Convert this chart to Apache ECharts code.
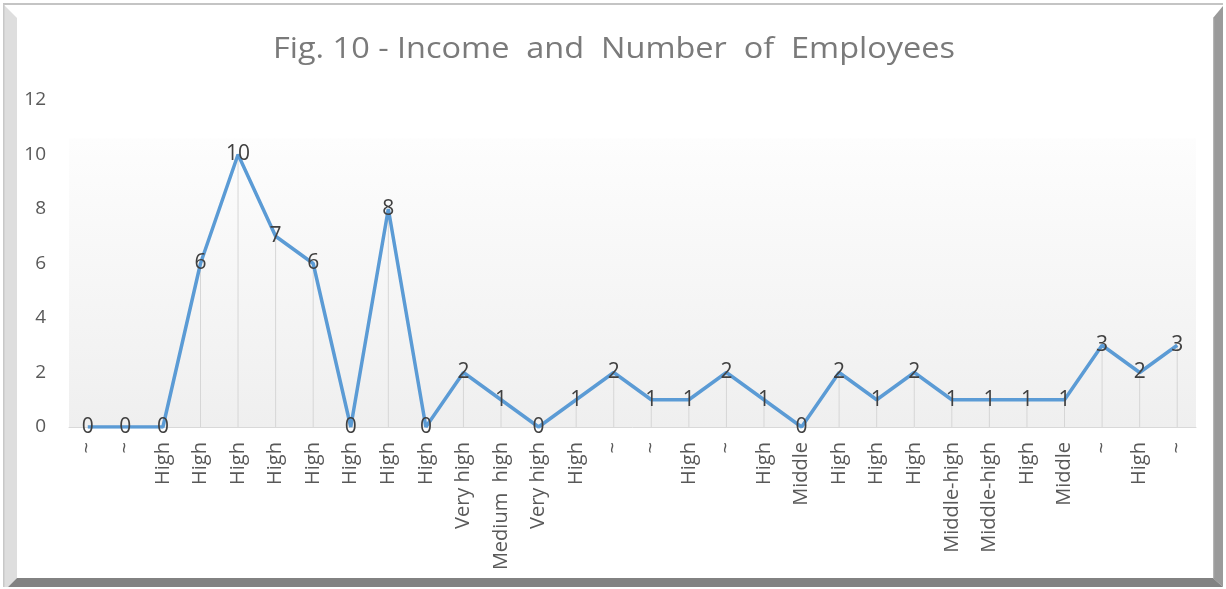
<!DOCTYPE html>
<html>
<head>
<meta charset="utf-8">
<style>
  html, body { margin: 0; padding: 0; background: #ffffff; }
  #chart { width: 1226px; height: 589px; }
</style>
<script src="https://cdn.jsdelivr.net/npm/echarts@6/dist/echarts.min.js"></script>
</head>
<body>
<div id="chart"></div>
<script>
// Income level of each firm and its number of employees
const incomeLevels = [
  '~', '~', 'High', 'High', 'High', 'High', 'High', 'High', 'High', 'High',
  'Very high', 'Medium  high', 'Very high', 'High', '~', '~', 'High', '~', 'High', 'Middle',
  'High', 'High', 'High', 'Middle-high', 'Middle-high', 'High', 'Middle', '~', 'High', '~'
];
const employees = [
  0, 0, 0, 6, 10, 7, 6, 0, 8, 0,
  2, 1, 0, 1, 2, 1, 1, 2, 1, 0,
  2, 1, 2, 1, 1, 1, 1, 3, 2, 3
];
const yTicks = { min: 0, max: 12, interval: 2 };
const chartTitle = 'Fig. 10 - Income  and  Number  of  Employees';

const W = 1226, H = 589;
const chart = echarts.init(document.getElementById('chart'), null, { renderer: 'canvas', width: W, height: H });

// Bevelled picture frame around the chart, plus the widely spaced title
const frame = [
  // top hairline
  { type: 'rect', shape: { x: 3, y: 3, width: 1220, height: 2 }, style: { fill: '#c4c4c4' }, silent: true },
  // left light bevel
  { type: 'polygon', shape: { points: [[3, 4], [17, 18], [17, 578], [8, 587], [3, 587]] }, style: { fill: '#dedede' }, silent: true },
  { type: 'rect', shape: { x: 3, y: 4, width: 1.5, height: 583 }, style: { fill: '#c8c8c8' }, silent: true },
  // right dark bevel
  { type: 'polygon', shape: { points: [[1213, 18], [1223, 6], [1223, 587], [1213, 578]] }, style: { fill: '#9a9a9a' }, silent: true },
  { type: 'rect', shape: { x: 1213, y: 18, width: 1.2, height: 560 }, style: { fill: '#b4b4b4' }, silent: true },
  // bottom dark bevel
  { type: 'polygon', shape: { points: [[17, 578], [1213, 578], [1223, 587], [8, 587]] }, style: { fill: '#828282' }, silent: true },
  // title, stretched a little for its wide tracking
  {
    type: 'text',
    x: 614, y: 50,
    scaleX: 1.12,
    silent: true,
    style: {
      text: chartTitle,
      font: '29px "Open Sans"',
      fill: '#7a7a7a',
      align: 'center',
      verticalAlign: 'middle'
    }
  }
];

chart.setOption({
  animation: false,
  backgroundColor: '#ffffff',
  textStyle: { fontFamily: 'Open Sans' },
  graphic: frame,
  grid: {
    left: 69, right: 30, top: 100, bottom: 162,
    show: true,
    borderWidth: 0,
    backgroundColor: {
      type: 'linear', x: 0, y: 0, x2: 0, y2: 1,
      colorStops: [
        { offset: 0, color: '#ffffff' },
        { offset: 0.115, color: '#ffffff' },
        { offset: 0.12, color: '#fdfdfd' },
        { offset: 1, color: '#efefef' }
      ]
    }
  },
  xAxis: {
    type: 'category',
    data: incomeLevels,
    boundaryGap: true,
    axisLine: { show: true, lineStyle: { color: '#d9d9d9', width: 1 } },
    axisTick: { show: false },
    splitLine: { show: false },
    axisLabel: {
      interval: 0,
      rotate: 90,
      margin: 15,
      fontFamily: 'Open Sans',
      fontSize: 20,
      color: '#595959'
    }
  },
  yAxis: {
    type: 'value',
    min: yTicks.min,
    max: yTicks.max,
    interval: yTicks.interval,
    axisLine: { show: false },
    axisTick: { show: false },
    splitLine: { show: false },
    axisLabel: { margin: 23, fontFamily: 'Open Sans', fontSize: 19, color: '#595959' }
  },
  series: [
    {
      // drop lines from each point down to the axis
      type: 'bar',
      data: employees,
      barWidth: 1,
      silent: true,
      z: 1,
      itemStyle: { color: '#d6d6d6' }
    },
    {
      type: 'line',
      data: employees,
      z: 3,
      symbol: 'circle',
      symbolSize: 1,
      itemStyle: { color: 'rgba(0,0,0,0)' },
      lineStyle: { color: '#5b9bd5', width: 3.5 },
      label: {
        show: true,
        position: 'inside',
        fontFamily: 'Open Sans',
        fontSize: 21,
        color: '#404040'
      }
    }
  ]
});
</script>
</body>
</html>
